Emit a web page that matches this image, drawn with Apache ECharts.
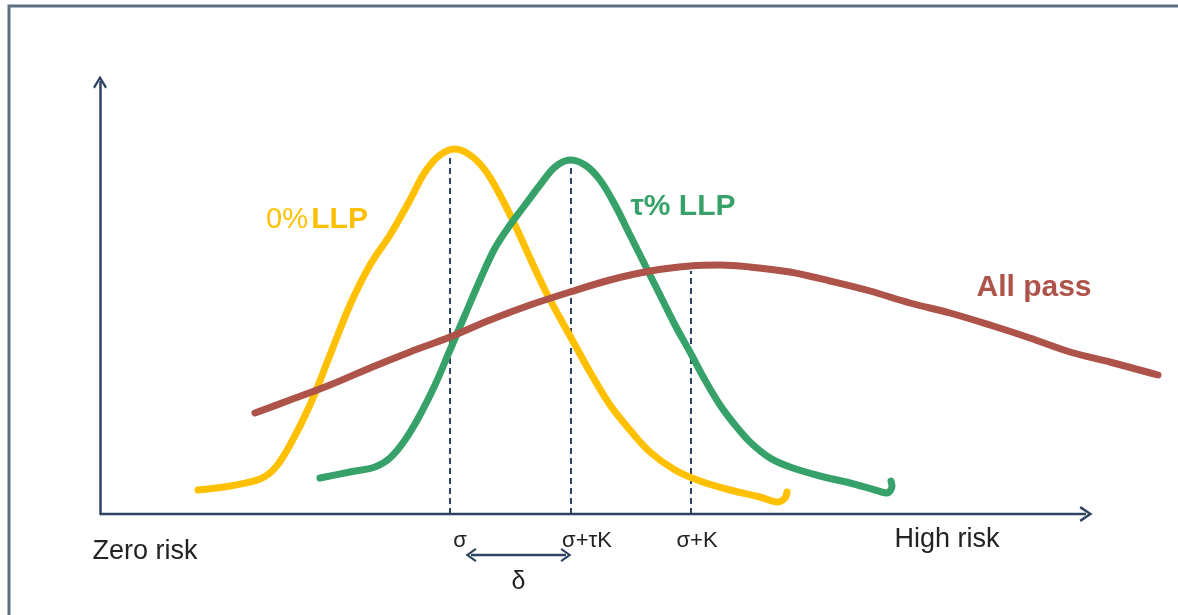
<!DOCTYPE html>
<html>
<head>
<meta charset="utf-8">
<script src="https://cdn.jsdelivr.net/npm/echarts@6/dist/echarts.min.js"></script>
<style>
html,body{margin:0;padding:0;background:#fff;}
#chart{width:1178px;height:615px;}
</style>
</head>
<body>
<div id="chart"></div>
<script>
// ---- data (axis units) ----
const seriesNames = ['0% LLP', 'τ% LLP', 'All pass'];
const zeroLLP = [[98,24],[130,28],[160,35],[175,46],[190,69],[210,109],[230,159],[250,209],[270,249],[290,279],[310,314],[325,342],[340,359],[355,365],[370,359],[385,344],[400,319],[415,289],[430,256],[445,224],[460,196],[475,169],[490,142],[510,109],[530,84],[550,62],[575,44],[600,33],[630,24],[660,17],[678,12],[685,16],[687,22]];
const tauLLP = [[220,36],[250,42],[275,47],[290,56],[305,74],[320,99],[335,129],[350,164],[365,199],[380,234],[395,266],[410,289],[425,309],[440,329],[455,347],[470,354],[485,349],[500,334],[515,309],[530,279],[545,249],[560,219],[575,189],[590,162],[605,134],[620,109],[635,89],[650,72],[670,56],[690,47],[720,38],[750,31],[775,24],[787,21],[792,28],[791,33]];
const allPass = [[155,101],[190,114],[230,129],[270,146],[310,162],[350,177],[390,194],[430,209],[470,222],[510,234],[550,243],[590,248],[620,249],[650,247],[690,242],[730,233],[770,223],[810,211],[850,201],[890,189],[930,176],[970,162],[1010,152],[1058,139]];
const tickValues = [350, 471, 591];
const tickLabels = ['σ', 'σ+τK', 'σ+K'];
const dashTops = [358, 348, 243];
const axisEndLabels = ['Zero risk', 'High risk'];
const deltaLabel = 'δ';
const seriesLabelAnchors = [[217,294],[583,307],[934,226]];
const xMin = 0, xArrowEnd = 986, xMax = 1070, yMin = 0, yMax = 432;

// ---- styles ----
const colors = ['#FFC000', '#36A269', '#AE5349'];
const axisColor = '#2c4460';
const chevron = 'path://M0,10 L6,0 L12,10 L10.4,11.2 L6,3.6 L1.6,11.2 Z';
const txt = '#222222';
const font = 'Liberation Sans';

const chart = echarts.init(document.getElementById('chart'));

const curveSeries = [zeroLLP, tauLLP, allPass].map((d, i) => ({
  type: 'line', name: seriesNames[i], data: d, smooth: 0.35, symbol: 'none', clip: false,
  lineStyle: {color: colors[i], width: 7, cap: 'round', join: 'round'}, z: 3, silent: true
}));

const dashSeries = tickValues.map((x, i) => ({
  type: 'line', data: [[x, yMin], [x, dashTops[i]]], symbol: 'none', silent: true,
  lineStyle: {color: axisColor, width: 2, type: [6, 4]}, z: 2
}));

const xAxisLine = {
  type: 'line', clip: false, silent: true, z: 4, showSymbol: true,
  data: [
    {value: [xMin, yMin], symbol: 'none'},
    {value: [xArrowEnd, yMin], symbol: chevron, symbolRotate: -90, symbolSize: [16, 13]}
  ],
  itemStyle: {color: axisColor, opacity: 1},
  lineStyle: {color: axisColor, width: 2.5}
};

const tickOffsets = [10, 16, 6];
const lbl = (text, pos, size) => ({show: true, formatter: text, position: pos, align: 'center', verticalAlign: 'middle', fontSize: size, color: txt, fontFamily: font});
const tickSeries = {
  type: 'scatter', symbolSize: 0, clip: false, silent: true, z: 5,
  itemStyle: {opacity: 1},
  data: tickValues.map((x, i) => ({value: [x, yMin], label: lbl(tickLabels[i], [tickOffsets[i], 27], 22)}))
    .concat([
      {value: [xMin, yMin], label: lbl(axisEndLabels[0], [45, 38], 27)},
      {value: [xArrowEnd, yMin], label: lbl(axisEndLabels[1], [-139, 26], 27)},
      {value: [(tickValues[0] + 21 + tickValues[1] - 5) / 2, yMin], label: lbl(deltaLabel, [0, 68], 25)}
    ])
};

const deltaArrow = {
  type: 'line', clip: false, silent: true, z: 5,
  data: [
    {value: [tickValues[0] + 21, -41], symbolRotate: 90},
    {value: [tickValues[1] - 5, -41], symbolRotate: -90}
  ],
  symbol: chevron, symbolSize: [14, 11], showSymbol: true,
  itemStyle: {color: axisColor, opacity: 1},
  lineStyle: {color: axisColor, width: 2.5}
};

const labelSeries = {
  type: 'scatter', symbolSize: 0, clip: false, silent: true, z: 6,
  itemStyle: {opacity: 1},
  data: seriesLabelAnchors.map((p, i) => ({
    value: p,
    label: {
      show: true, position: [0, 0], align: 'center', verticalAlign: 'middle',
      formatter: i === 0 ? '{a|0%} {b|LLP}' : (i === 1 ? '{b|τ% LLP}' : '{b|All pass}'),
      rich: {
        a: {fontSize: 29, fontWeight: 'normal', color: colors[i], fontFamily: font},
        b: {fontSize: 30, fontWeight: 'bold', color: colors[i], fontFamily: font}
      }
    }
  }))
};

chart.setOption({
  animation: false,
  backgroundColor: '#fff',
  grid: {left: 100, top: 82, width: 1070, height: 432},
  xAxis: {
    type: 'value', min: xMin, max: xMax,
    axisLine: {show: false}, axisTick: {show: false}, axisLabel: {show: false}, splitLine: {show: false}
  },
  yAxis: {
    type: 'value', min: yMin, max: yMax,
    axisLine: {show: true, onZero: false, lineStyle: {color: axisColor, width: 2.5}, symbol: ['none', chevron], symbolSize: [16, 13]},
    axisTick: {show: false}, axisLabel: {show: false}, splitLine: {show: false}
  },
  graphic: [{
    type: 'rect', shape: {x: 9, y: 6, width: 1300, height: 800},
    style: {fill: 'none', stroke: '#5b7084', lineWidth: 3}, z: 10, silent: true
  }],
  series: [...dashSeries, ...curveSeries, xAxisLine, tickSeries, deltaArrow, labelSeries]
});
</script>
</body>
</html>
